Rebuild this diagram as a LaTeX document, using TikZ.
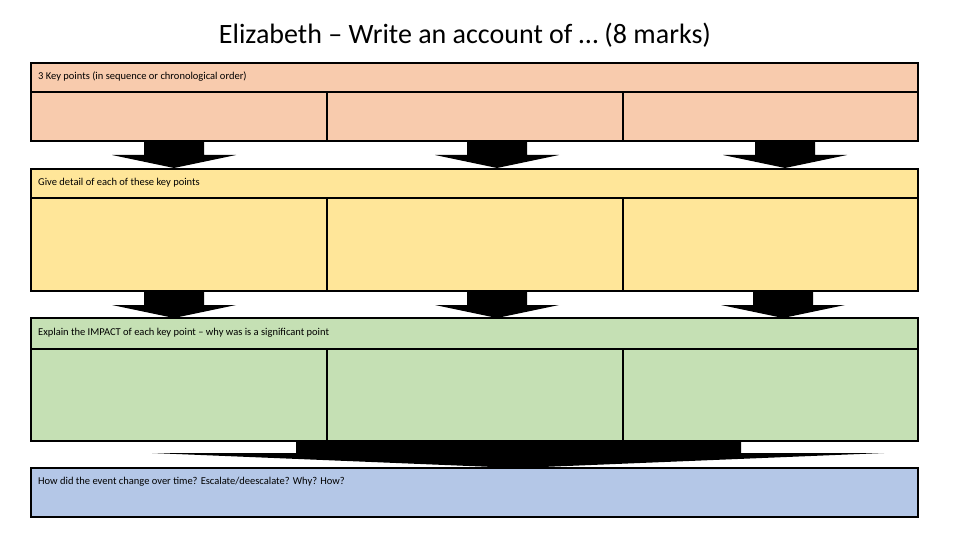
\documentclass[tikz,border=0pt]{standalone}
\usepackage{fontspec}
\setmainfont{Carlito}
\definecolor{cor}{HTML}{F8CBAD}
\definecolor{cye}{HTML}{FFE699}
\definecolor{cgr}{HTML}{C5E0B4}
\definecolor{cbl}{HTML}{B4C7E7}
\begin{document}
\begin{tikzpicture}[x=1pt,y=-1pt,
  cell/.style={draw=black,line width=1.2pt},
  lab/.style={anchor=west,inner sep=0pt,font=\fontsize{10.5}{12}\selectfont}]
\useasboundingbox (0,0) rectangle (960,540);
\node[anchor=center,inner sep=0pt,font=\fontsize{28}{32}\selectfont] (title) at (465,35) {Elizabeth – Write an account of … (8 marks)};
% arrow macro
\newcommand{\myarrow}[3]{% center x, top y, bottom y
  \fill[black] (#1-30,#2) -- (#1+30,#2) -- (#1+30,#2+14) -- (#1+62,#2+14) -- (#1,#3) -- (#1-62,#2+14) -- (#1-30,#2+14) -- cycle;}
\foreach \c in {174,497,785} {\myarrow{\c}{141}{168}}
\foreach \c in {174,497,783} {\myarrow{\c}{291}{318}}
\fill[black] (296,440) -- (741,440) -- (741,453) -- (884,453) -- (518,468) -- (152,453) -- (296,453) -- cycle;
% rows
\foreach \ya/\yb/\yc/\col in {63/92/141/cor, 169/198/291/cye, 318/349/441/cgr} {
  \filldraw[cell,fill=\col] (31,\ya) rectangle (918,\yb);
  \filldraw[cell,fill=\col] (31,\yb) rectangle (327,\yc);
  \filldraw[cell,fill=\col] (327,\yb) rectangle (623,\yc);
  \filldraw[cell,fill=\col] (623,\yb) rectangle (918,\yc);
}
\filldraw[cell,fill=cbl] (31,468) rectangle (918,517);
\node[lab] (t1) at (38,77) {3 Key points (in sequence or chronological order)};
\node[lab] (t2) at (38,183) {Give detail of each of these key points};
\node[lab] (t3) at (38,333) {Explain the IMPACT of each key point – why was is a significant point};
\node[lab] (t4) at (38,482) {How did the event change over time? Escalate/deescalate? Why? How?};
\end{tikzpicture}
\end{document}
